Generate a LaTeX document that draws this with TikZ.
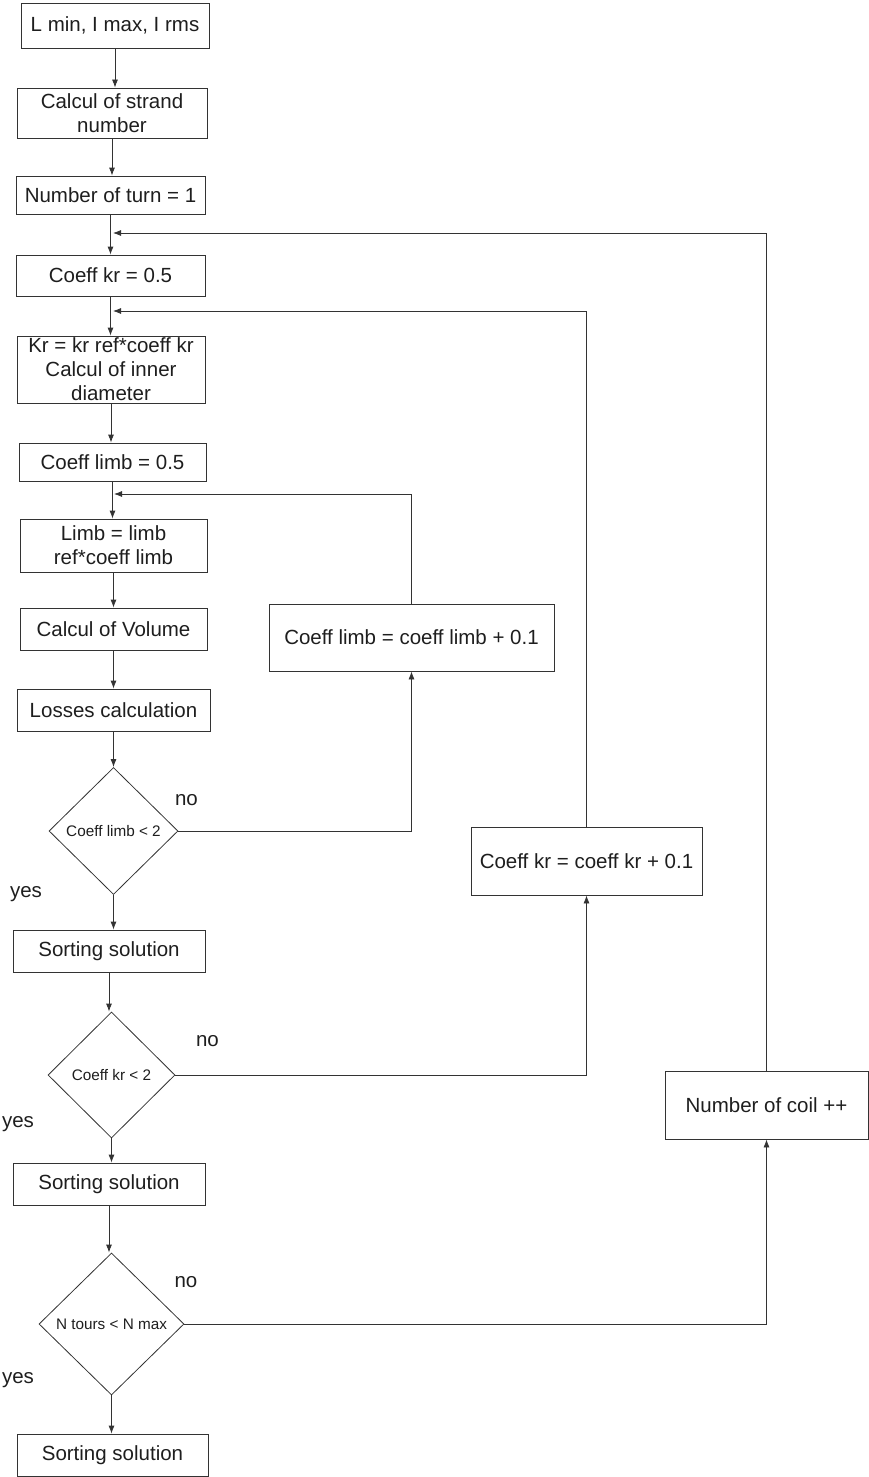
\documentclass[tikz,border=0pt]{standalone}
\usepackage{fontspec}
\setmainfont{Liberation Sans}
\usetikzlibrary{arrows.meta,shapes.geometric}
\definecolor{lc}{HTML}{333333}
\definecolor{tc}{HTML}{1E1E1E}
\begin{document}
\begin{tikzpicture}[x=1pt,y=-1pt,
 box/.style={draw=lc, line width=0.8pt, inner sep=0pt, align=center, font=\fontsize{20.5}{24}\selectfont, text=tc},
 dia/.style={draw=lc, line width=0.8pt, diamond, inner sep=0pt, font=\fontsize{15.3}{18}\selectfont, text=tc},
 arr/.style={draw=lc, line width=0.8pt, -{Latex[length=8pt,width=6pt]}},
 lbl/.style={font=\fontsize{20.5}{24}\selectfont, text=tc, anchor=base, inner sep=0pt}]
\useasboundingbox (0,0) rectangle (869,1477);
% main column
\node[box, minimum width=188pt, minimum height=45pt] (b1) at (115,25.5) {L min, I max, I rms};
\node[box, minimum width=190pt, minimum height=50pt] (b2) at (112,113) {Calcul of strand\\number};
\node[box, minimum width=189pt, minimum height=38pt] (b3) at (110.5,195) {Number of turn = 1};
\node[box, minimum width=189pt, minimum height=41pt] (b4) at (110.5,275.5) {Coeff kr = 0.5};
\node[box, minimum width=188pt, minimum height=67pt] (b5) at (111,369.5) {Kr = kr ref*coeff kr\\Calcul of inner\\diameter};
\node[box, minimum width=187pt, minimum height=38pt] (b6) at (112.5,462) {Coeff limb = 0.5};
\node[box, minimum width=187pt, minimum height=53pt] (b7) at (113.5,545.5) {Limb = limb\\ref*coeff limb};
\node[box, minimum width=187pt, minimum height=42pt] (b8) at (113.5,629) {Calcul of Volume};
\node[box, minimum width=193pt, minimum height=42pt] (b9) at (113.5,710) {Losses calculation};
\node[dia, minimum width=129pt, minimum height=127pt] (d1) at (113.5,831) {Coeff limb < 2};
\node[box, minimum width=192pt, minimum height=42pt] (b10) at (109,951) {Sorting solution};
\node[dia, minimum width=127pt, minimum height=126pt] (d2) at (111.5,1075) {Coeff kr < 2};
\node[box, minimum width=192pt, minimum height=42pt] (b11) at (109,1184) {Sorting solution};
\node[dia, minimum width=145pt, minimum height=142pt] (d3) at (111.5,1324) {N tours < N max};
\node[box, minimum width=191pt, minimum height=42pt] (b12) at (112.5,1455) {Sorting solution};
% right column
\node[box, minimum width=285pt, minimum height=67pt] (r1) at (411.5,637.5) {Coeff limb = coeff limb + 0.1};
\node[box, minimum width=231pt, minimum height=68pt] (r2) at (586.5,861) {Coeff kr = coeff kr + 0.1};
\node[box, minimum width=203pt, minimum height=68pt] (r3) at (766.5,1105) {Number of coil ++};
% labels
\node[lbl] (no1) at (186.5,805) {no};
\node[lbl] (yes1) at (26,897) {yes};
\node[lbl] (no2) at (207.5,1046) {no};
\node[lbl] (yes2) at (18,1127) {yes};
\node[lbl] (no3) at (186,1287) {no};
\node[lbl] (yes3) at (18,1383) {yes};
% merge points
\coordinate (m1) at (113,233);
\coordinate (m2) at (113,311);
\coordinate (m3) at (114,494);
% main arrows
\draw[arr] (b1.south) -- (b1.south |- b2.north);
\draw[arr] (b2.south) -- (b2.south |- b3.north);
\draw[arr] (b3.south) -- (b3.south |- b4.north);
\draw[arr] (b4.south) -- (b4.south |- b5.north);
\draw[arr] (b5.south) -- (b5.south |- b6.north);
\draw[arr] (b6.south) -- (b6.south |- b7.north);
\draw[arr] (b7.south) -- (b7.south |- b8.north);
\draw[arr] (b8.south) -- (b8.south |- b9.north);
\draw[arr] (b9.south) -- (b9.south |- d1.north);
\draw[arr] (d1.south) -- (d1.south |- b10.north);
\draw[arr] (b10.south) -- (b10.south |- d2.north);
\draw[arr] (d2.south) -- (d2.south |- b11.north);
\draw[arr] (b11.south) -- (b11.south |- d3.north);
\draw[arr] (d3.south) -- (d3.south |- b12.north);
% loops
\draw[arr] (d1.east) -| (r1.south);
\draw[arr] (d2.east) -| (r2.south);
\draw[arr] (d3.east) -| (r3.south);
\draw[arr] (r1.north) |- (m3);
\draw[arr] (r2.north) |- (m2);
\draw[arr] (r3.north) |- (m1);
\end{tikzpicture}
\end{document}
